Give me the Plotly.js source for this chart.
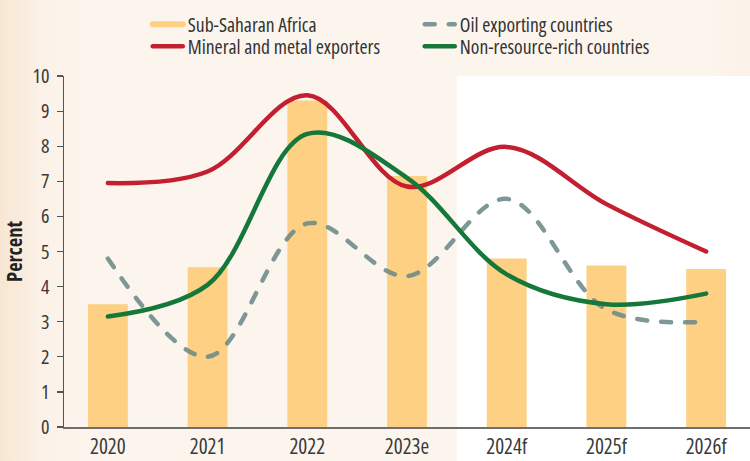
<!DOCTYPE html>
<html>
<head>
<meta charset="utf-8">
<script src="https://cdn.plot.ly/plotly-3.0.1.min.js"></script>
<style>
html,body{margin:0;padding:0;}
body{width:750px;height:461px;background:linear-gradient(to right,#f7e6d3 0px,#fbf1e7 40px,#fcf5ee 90px,#fcf5ee 700px,#fbf2e8 750px);}
#chart{width:750px;height:461px;}
.js-line{stroke-linecap:round;}
#chart text{font-stretch:75% !important;}
</style>
</head>
<body>
<div id="chart"></div>
<script>
const categories = ["2020","2021","2022","2023e","2024f","2025f","2026f"];
const ssa = [3.5, 4.55, 9.3, 7.15, 4.8, 4.6, 4.5];
const oil = [4.8, 2.0, 5.8, 4.3, 6.5, 3.35, 3.0];
const mineral = [6.95, 7.28, 9.45, 6.85, 7.98, 6.35, 5.0];
const nonres = [3.15, 4.05, 8.35, 7.1, 4.35, 3.5, 3.8];

const FONT = '"Open Sans",sans-serif';
const xi = categories.map((c,i)=>i);
const LEGFONT = {family:FONT, size:19.6, color:'#333333'};

const traces = [
  {type:'bar', x:xi, y:ssa, name:'Sub-Saharan Africa', marker:{color:'#fdd083'}, width:0.4, showlegend:false, legendgroup:'ssa'},
  {type:'scatter', mode:'lines', x:[null], y:[null], name:'Sub-Saharan Africa', legendgroup:'ssa', legend:'legend',
   line:{color:'#fdd083', width:6}},
  {type:'scatter', mode:'lines', x:xi, y:oil, name:'Oil exporting countries', legend:'legend',
   line:{color:'#6b8a89', width:4.5, dash:'10px,14px', shape:'spline', smoothing:1}, opacity:0.88},
  {type:'scatter', mode:'lines', x:xi, y:mineral, name:'Mineral and metal exporters', legend:'legend2',
   line:{color:'#c31f30', width:4.5, shape:'spline', smoothing:1}},
  {type:'scatter', mode:'lines', x:xi, y:nonres, name:'Non-resource-rich countries', legend:'legend2',
   line:{color:'#16773b', width:4.5, shape:'spline', smoothing:1}}
];

const legBase = {orientation:'h', xref:'container', yref:'container', x:0.197, yanchor:'middle', xanchor:'left',
    entrywidth:227, entrywidthmode:'pixels', traceorder:'normal', font:LEGFONT, bgcolor:'rgba(0,0,0,0)', itemwidth:30};

const layout = {
  width:750, height:461,
  margin:{l:64, r:0, t:76, b:34},
  paper_bgcolor:'rgba(0,0,0,0)', plot_bgcolor:'rgba(0,0,0,0)',
  font:{family:FONT, size:17, color:'#333333'},
  showlegend:true,
  legend:Object.assign({}, legBase, {y:1-24.5/461}),
  legend2:Object.assign({}, legBase, {y:1-46.5/461}),
  xaxis:{range:[-0.44,6.44], tickmode:'array', tickvals:xi, ticktext:categories,
    showgrid:false, zeroline:false, showline:true, linecolor:'#6e6e6e', linewidth:1.5,
    ticks:'', tickfont:{family:FONT, size:21, color:'#3a3a3a'}, fixedrange:true},
  yaxis:{range:[0,10], dtick:1, showgrid:false, zeroline:false, showline:true, linecolor:'#555555', linewidth:1.5,
    ticks:'outside', ticklen:6, tickcolor:'#555555', tickwidth:1.2, ticklabelstandoff:3,
    tickfont:{family:FONT, size:20, color:'#3a3a3a'},
    title:{text:'<b>Percent</b>', font:{family:FONT, size:20.5, color:'#222222'}, standoff:3}},
  shapes:[{type:'rect', layer:'below', xref:'x', yref:'paper', x0:3.5, x1:6.44, y0:-0.1, y1:1,
    fillcolor:'#ffffff', line:{width:0}}],
  bargap:0.6
};

Plotly.newPlot('chart', traces, layout, {displayModeBar:false, staticPlot:true});
</script>
</body>
</html>
